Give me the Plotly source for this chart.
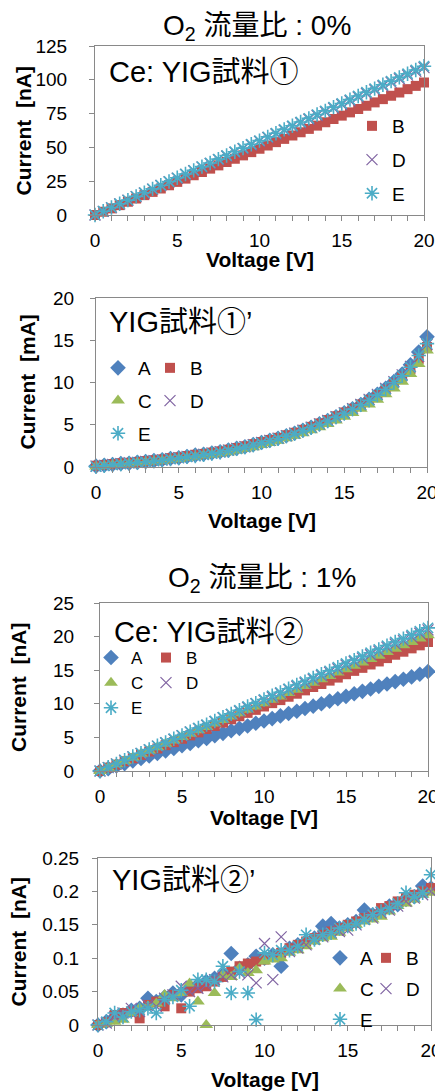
import plotly.graph_objects as go

# The page body keeps its default 8 px margin, so the figure is 8 px smaller
# and every reference pixel position is shifted by that offset.
OFF = 8
W, H = 443 - OFF, 1092 - OFF
FONT = "Liberation Sans, Arial, Noto Sans CJK JP, sans-serif"

VOLTAGE = [0.0, 0.5, 1.0, 1.5, 2.0, 2.5, 3.0, 3.5, 4.0, 4.5, 5.0, 5.5, 6.0, 6.5, 7.0, 7.5,
           8.0, 8.5, 9.0, 9.5, 10.0, 10.5, 11.0, 11.5, 12.0, 12.5, 13.0, 13.5, 14.0, 14.5,
           15.0, 15.5, 16.0, 16.5, 17.0, 17.5, 18.0, 18.5, 19.0, 19.5, 20.0]

# Panel 1: Ce:YIG sample 1, O2 0 %  [nA]
P1_B = [0, 2.4, 4.9, 7.3, 9.8, 12.2, 14.7, 17.1, 19.6, 22.0, 24.5, 26.9, 29.4, 31.8, 34.3,
        36.7, 39.2, 41.6, 44.1, 46.5, 49.0, 51.4, 53.9, 56.3, 58.8, 61.2, 63.7, 66.1, 68.6,
        71.0, 73.5, 75.9, 78.4, 80.8, 83.3, 85.7, 88.2, 90.6, 93.1, 95.5, 98.0]
P1_D = [0, 2.7, 5.4, 8.2, 10.9, 13.6, 16.3, 19.1, 21.8, 24.5, 27.2, 30.0, 32.7, 35.4, 38.1,
        40.9, 43.6, 46.3, 49.0, 51.8, 54.5, 57.2, 59.9, 62.7, 65.4, 68.1, 70.8, 73.6, 76.3,
        79.0, 81.7, 84.5, 87.2, 89.9, 92.6, 95.4, 98.1, 100.8, 103.5, 106.3, 109.0]
P1_E = [0, 2.8, 5.5, 8.3, 11.0, 13.8, 16.5, 19.3, 22.0, 24.8, 27.5, 30.3, 33.0, 35.8, 38.5,
        41.3, 44.0, 46.8, 49.5, 52.3, 55.0, 57.8, 60.5, 63.3, 66.0, 68.8, 71.5, 74.3, 77.0,
        79.8, 82.5, 85.3, 88.0, 90.8, 93.5, 96.3, 99.0, 101.8, 104.5, 107.3, 110.0]

# Panel 2: YIG sample 1', O2 0 %  [mA]
P2_A = [0.1, 0.2, 0.3, 0.4, 0.45, 0.55, 0.65, 0.75, 0.85, 1.0, 1.1, 1.25, 1.4, 1.5, 1.65,
        1.8, 2.0, 2.2, 2.4, 2.65, 2.9, 3.15, 3.4, 3.7, 4.0, 4.35, 4.7, 5.1, 5.5, 5.95, 6.4,
        6.9, 7.4, 8.0, 8.6, 9.3, 10.1, 11.0, 12.1, 13.6, 15.4]
P2_B = [0.15, 0.25, 0.35, 0.45, 0.5, 0.6, 0.7, 0.8, 0.9, 1.05, 1.15, 1.3, 1.45, 1.55, 1.7,
        1.85, 2.05, 2.25, 2.45, 2.7, 2.95, 3.2, 3.45, 3.75, 4.05, 4.4, 4.75, 5.15, 5.55, 6.0,
        6.45, 6.9, 7.4, 7.95, 8.5, 9.15, 9.9, 10.7, 11.6, 12.8, 14.2]
P2_C = [0.05, 0.15, 0.25, 0.3, 0.4, 0.5, 0.55, 0.65, 0.75, 0.85, 0.95, 1.1, 1.2, 1.35, 1.45,
        1.6, 1.75, 1.95, 2.15, 2.35, 2.6, 2.85, 3.1, 3.4, 3.7, 4.0, 4.35, 4.7, 5.1, 5.5, 5.95,
        6.4, 6.9, 7.4, 7.95, 8.6, 9.3, 10.1, 11.0, 12.2, 13.8]
P2_D = [0.1, 0.2, 0.3, 0.4, 0.5, 0.55, 0.65, 0.75, 0.85, 1.0, 1.1, 1.25, 1.35, 1.5, 1.65,
        1.8, 2.0, 2.2, 2.4, 2.65, 2.9, 3.15, 3.4, 3.7, 4.0, 4.35, 4.7, 5.1, 5.5, 5.95, 6.4,
        6.9, 7.4, 8.0, 8.6, 9.3, 10.1, 10.9, 11.9, 13.1, 14.5]
P2_E = [0.05, 0.15, 0.25, 0.35, 0.45, 0.55, 0.6, 0.7, 0.8, 0.95, 1.05, 1.2, 1.3, 1.45, 1.6,
        1.75, 1.95, 2.15, 2.35, 2.6, 2.85, 3.1, 3.35, 3.65, 3.95, 4.3, 4.65, 5.05, 5.45, 5.9,
        6.35, 6.85, 7.35, 7.9, 8.5, 9.2, 10.0, 10.8, 11.8, 13.2, 14.6]

# Panel 3: Ce:YIG sample 2, O2 1 %  [nA]
P3_A = [0, 0.35, 0.75, 1.1, 1.5, 1.85, 2.25, 2.6, 3.0, 3.35, 3.75, 4.1, 4.5, 4.85, 5.25,
        5.6, 6.0, 6.35, 6.7, 7.1, 7.45, 7.8, 8.2, 8.55, 8.9, 9.3, 9.65, 10.0, 10.4, 10.75,
        11.1, 11.5, 11.85, 12.2, 12.6, 12.95, 13.3, 13.65, 14.0, 14.4, 14.8]
P3_B = [0, 0.5, 0.95, 1.45, 1.9, 2.4, 2.9, 3.35, 3.85, 4.3, 4.8, 5.3, 5.75, 6.25, 6.7, 7.2,
        7.7, 8.15, 8.65, 9.1, 9.6, 10.1, 10.55, 11.05, 11.5, 12.0, 12.5, 12.95, 13.45, 13.9,
        14.4, 14.9, 15.35, 15.85, 16.3, 16.8, 17.3, 17.75, 18.25, 18.7, 19.2]
P3_C = [0, 0.5, 1.0, 1.5, 2.0, 2.55, 3.05, 3.55, 4.05, 4.55, 5.05, 5.55, 6.05, 6.55, 7.05,
        7.6, 8.1, 8.6, 9.1, 9.6, 10.1, 10.6, 11.1, 11.6, 12.1, 12.65, 13.15, 13.65, 14.15,
        14.65, 15.15, 15.65, 16.15, 16.65, 17.15, 17.7, 18.2, 18.7, 19.2, 19.7, 20.2]
P3_D = [0, 0.5, 1.05, 1.6, 2.1, 2.6, 3.15, 3.7, 4.2, 4.7, 5.25, 5.8, 6.3, 6.8, 7.35, 7.9,
        8.4, 8.9, 9.45, 10.0, 10.5, 11.0, 11.55, 12.1, 12.6, 13.1, 13.65, 14.2, 14.7, 15.2,
        15.75, 16.3, 16.8, 17.3, 17.85, 18.4, 18.9, 19.4, 19.95, 20.5, 21.0]
P3_E = [0, 0.55, 1.05, 1.6, 2.15, 2.65, 3.2, 3.75, 4.25, 4.8, 5.3, 5.85, 6.4, 6.9, 7.45,
        8.0, 8.5, 9.05, 9.6, 10.1, 10.65, 11.2, 11.7, 12.25, 12.8, 13.3, 13.85, 14.4, 14.9,
        15.45, 16.0, 16.5, 17.05, 17.6, 18.1, 18.65, 19.2, 19.7, 20.25, 20.8, 21.3]

# Panel 4: YIG sample 2', O2 1 %  [nA]
P4_A = [0.000, 0.005, 0.012, 0.015, 0.022, 0.025, 0.040, 0.035, 0.042, 0.048, 0.045, 0.055,
        0.060, 0.065, 0.070, 0.075, 0.107, 0.085, 0.090, 0.103, 0.100, 0.105, 0.088, 0.115,
        0.120, 0.125, 0.130, 0.148, 0.152, 0.145, 0.150, 0.155, 0.172, 0.165, 0.170, 0.178,
        0.180, 0.188, 0.192, 0.208, 0.205]
P4_B = [0.000, 0.004, 0.015, 0.018, 0.020, 0.010, 0.030, 0.035, 0.028, 0.045, 0.025, 0.050,
        0.055, 0.058, 0.065, 0.072, 0.080, 0.088, 0.092, 0.095, 0.098, 0.102, 0.108, 0.115,
        0.120, 0.125, 0.130, 0.135, 0.140, 0.145, 0.150, 0.155, 0.160, 0.165, 0.175, 0.178,
        0.185, 0.190, 0.195, 0.200, 0.205]
P4_C = [0.000, 0.002, 0.005, 0.008, 0.018, 0.025, 0.028, 0.032, 0.045, 0.040, 0.048, 0.062,
        0.035, 0.000, 0.048, 0.075, 0.072, 0.085, 0.078, 0.082, 0.095, 0.098, 0.100, 0.108,
        0.112, 0.118, 0.125, 0.130, 0.132, 0.138, 0.145, 0.150, 0.155, 0.158, 0.162, 0.170,
        0.178, 0.182, 0.188, 0.195, 0.198]
P4_D = [0.000, 0.003, 0.012, 0.018, 0.025, 0.020, 0.030, 0.028, 0.040, 0.045, 0.058, 0.050,
        0.055, 0.060, 0.068, 0.072, 0.075, 0.078, 0.075, 0.063, 0.122, 0.068, 0.132, 0.110,
        0.115, 0.120, 0.128, 0.132, 0.138, 0.140, 0.142, 0.150, 0.158, 0.160, 0.168, 0.172,
        0.178, 0.185, 0.190, 0.195, 0.200]
P4_E = [0.000, 0.005, 0.018, 0.012, 0.020, 0.022, 0.025, 0.018, 0.038, 0.042, 0.052, 0.028,
        0.068, 0.068, 0.065, 0.088, 0.048, 0.080, 0.048, 0.008, 0.108, 0.105, 0.112, 0.112,
        0.118, 0.135, 0.128, 0.135, 0.138, 0.145, 0.148, 0.152, 0.158, 0.165, 0.170, 0.175,
        0.182, 0.198, 0.192, 0.198, 0.225]

TITLES = ["O<sub>2</sub> 流量比 : 0%", "O<sub>2</sub> 流量比 : 1%"]
LABELS = ["Ce: YIG試料①", "YIG試料①’", "Ce: YIG試料②", "YIG試料②’"]
Y_TITLES = ["Current\u00a0 [nA]", "Current\u00a0 [mA]", "Current\u00a0 [nA]", "Current\u00a0 [nA]"]
X_TITLE = "Voltage [V]"

STYLE = {
    "A": dict(color="#4F81BD", symbol="diamond", size=12, line=dict(width=0)),
    "B": dict(color="#C0504D", symbol="square", size=10, line=dict(width=0)),
    "C": dict(color="#9BBB59", symbol="triangle-up", size=12, line=dict(width=0)),
    "D": dict(color="#8064A2", symbol="x-thin-open", size=11, line=dict(width=1.2, color="#8064A2")),
    "E": dict(color="#4BACC6", symbol="asterisk-open", size=12, line=dict(width=1.6, color="#4BACC6")),
}


def py(px):
    return 1 - (px - OFF) / H


def pxx(px):
    return (px - OFF) / W


panels = [
    dict(series={"B": P1_B, "D": P1_D, "E": P1_E}, yr=[0, 125], dt=25,
         xdom=(95, 424), ydom=(46, 215), lab=(107, 72), ytx=23, xty=260,
         legends=[(352, 107, ["B", "D", "E"], 6)], lfont=19, ystand=18),
    dict(series={"A": P2_A, "B": P2_B, "C": P2_C, "D": P2_D, "E": P2_E}, yr=[0, 20], dt=5,
         xdom=(96, 427), ydom=(298, 467), lab=(107, 322), ytx=27, xty=520,
         legends=[(98, 349, ["A", "C", "E"], 5), (150, 349, ["B", "D"], 5)], lfont=19, ystand=12),
    dict(series={"A": P3_A, "B": P3_B, "C": P3_C, "D": P3_D, "E": P3_E}, yr=[0, 25], dt=5,
         xdom=(100, 428), ydom=(603, 771), lab=(112, 632), ytx=18, xty=817,
         legends=[(91, 640, ["A", "C", "E"], 0), (146, 640, ["B", "D"], 0)], lfont=17, ystand=16),
    dict(series={"A": P4_A, "B": P4_B, "C": P4_C, "D": P4_D, "E": P4_E}, yr=[0, 0.25], dt=0.05,
         xdom=(98, 431), ydom=(858, 1025), lab=(110, 880), ytx=18, xty=1079,
         legends=[(320, 939, ["A", "C", "E"], 3), (366, 939, ["B", "D"], 3)], lfont=19, ystand=9),
]

fig = go.Figure()
annotations = []
legend_layouts = {}
legend_count = 0

for i, p in enumerate(panels):
    n = i + 1
    xa = "x" if n == 1 else f"x{n}"
    ya = "y" if n == 1 else f"y{n}"
    member = {}
    for (lx, ly, names, gap) in p["legends"]:
        legend_count += 1
        lname = "legend" if legend_count == 1 else f"legend{legend_count}"
        for nm in names:
            member[nm] = lname
        legend_layouts[lname] = dict(
            x=pxx(lx), y=py(ly), xanchor="left", yanchor="top", xref="paper", yref="paper",
            bgcolor="rgba(0,0,0,0)", borderwidth=0, traceorder="grouped",
            tracegroupgap=gap, font=dict(family=FONT, size=p["lfont"], color="black"),
            itemsizing="trace",
        )
    for nm, vals in p["series"].items():
        st = STYLE[nm]
        fig.add_trace(go.Scatter(
            x=VOLTAGE, y=vals, mode="markers", name=nm,
            xaxis=xa, yaxis=ya, legend=member[nm], legendgroup=f"p{n}{nm}",
            marker=dict(color=st["color"], symbol=st["symbol"], size=st["size"], line=st["line"]),
            cliponaxis=False, showlegend=True,
        ))
    axcommon = dict(showgrid=False, zeroline=False, showline=True, mirror=True,
                    linecolor="#898989", linewidth=1, ticks="outside", ticklen=5,
                    tickcolor="#898989", tickfont=dict(family=FONT, size=19, color="black"),
                    automargin=False)
    fig.layout[("xaxis" if n == 1 else f"xaxis{n}")] = dict(
        axcommon, domain=[pxx(p["xdom"][0]), pxx(p["xdom"][1])], range=[0, 20], dtick=5,
        anchor=ya, minor=dict(dtick=1, ticks="outside", ticklen=5, tickcolor="#898989"),
        ticklabelstandoff=3)
    fig.layout[("yaxis" if n == 1 else f"yaxis{n}")] = dict(
        axcommon, domain=[py(p["ydom"][1]), py(p["ydom"][0])], range=p["yr"], dtick=p["dt"],
        anchor=xa, ticklabelstandoff=p["ystand"])
    annotations.append(dict(text=LABELS[i], x=pxx(p["lab"][0]), y=py(p["lab"][1]),
                            xref="paper", yref="paper", xanchor="left", yanchor="middle",
                            showarrow=False, font=dict(family=FONT, size=29, color="black")))
    annotations.append(dict(text=f"<b>{Y_TITLES[i]}</b>", x=pxx(p["ytx"]),
                            y=py((p["ydom"][0] + p["ydom"][1]) / 2), xref="paper", yref="paper",
                            xanchor="center", yanchor="middle", textangle=-90, showarrow=False,
                            font=dict(family=FONT, size=21, color="black")))
    annotations.append(dict(text=f"<b>{X_TITLE}</b>", x=pxx((p["xdom"][0] + p["xdom"][1]) / 2),
                            y=py(p["xty"]), xref="paper", yref="paper", xanchor="center",
                            yanchor="middle", showarrow=False,
                            font=dict(family=FONT, size=21, color="black")))

annotations.append(dict(text=TITLES[0], x=pxx(257), y=py(28), xref="paper", yref="paper",
                        xanchor="center", yanchor="middle", showarrow=False,
                        font=dict(family=FONT, size=28, color="black")))
annotations.append(dict(text=TITLES[1], x=pxx(262), y=py(579), xref="paper", yref="paper",
                        xanchor="center", yanchor="middle", showarrow=False,
                        font=dict(family=FONT, size=28, color="black")))

fig.update_layout(width=W, height=H, margin=dict(l=0, r=0, t=0, b=0, autoexpand=False),
                  paper_bgcolor="white", plot_bgcolor="white",
                  annotations=annotations, **legend_layouts)

fig.write_html("out.html")
